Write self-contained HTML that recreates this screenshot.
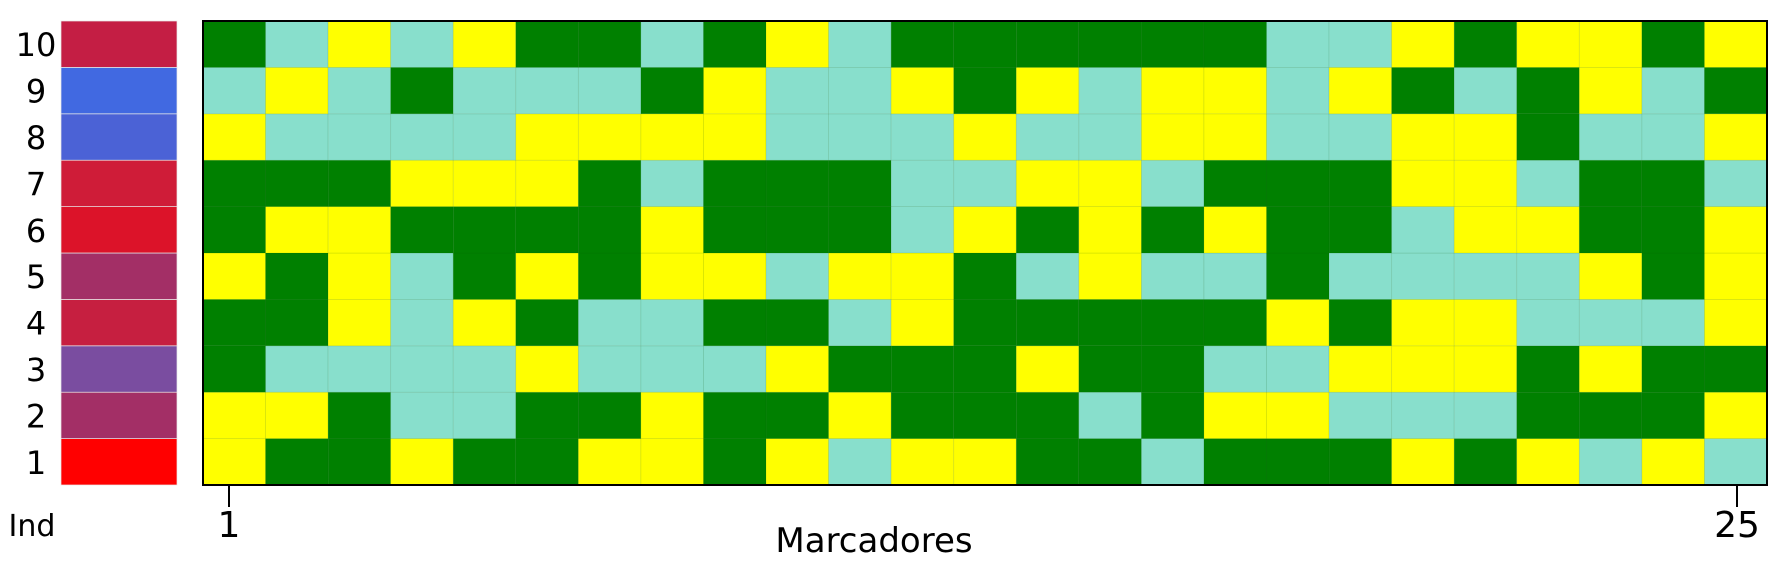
<!DOCTYPE html>
<html><head><meta charset="utf-8"><style>
html,body{margin:0;padding:0;background:#fff;}
svg{display:block;font-family:"DejaVu Sans","Liberation Sans",sans-serif;}
</style></head><body>
<svg id="chart" width="1792" height="568" viewBox="0 0 1792 568" xmlns="http://www.w3.org/2000/svg">
<g id="side"></g><g id="cells"></g><g id="axes"></g>
</svg>
<script>
const individuals=["1","2","3","4","5","6","7","8","9","10"];
const markerTicks=[1,25];
const sideColors=["#ff0000","#a32f66","#7a4da0","#c61f40","#a32f66","#dc1329","#cf1c38","#4b62d6","#4169e1","#c41e44"];
const palette={G:"#008000",T:"#88dfcc",Y:"#ffff00"};
// rows from individual 1 (bottom) to 10 (top)
const genotypes=[
"YGGYGGYYGYTYYGGTGGGYGYTYT",
"YYGTTGGYGGYGGGTGYYTTTGGGY",
"GTTTTYTTTYGGGYGGTTYYYGYGG",
"GGYTYGTTGGTYGGGGGYGYYTTTY",
"YGYTGYGYYTYYGTYTTGTTTTYGY",
"GYYGGGGYGGGTYGYGYGGTYYGGY",
"GGGYYYGTGGGTTYYTGGGYYTGGT",
"YTTTTYYYYTTTYTTYYTTYYGTTY",
"TYTGTTTGYTTYGYTYYTYGTGYTG",
"GTYTYGGTGYTGGGGGGTTYGYYGY"
];
const NS="http://www.w3.org/2000/svg";
const X0=203,X1=1767,Y0=21,Y1=485;
const nCols=genotypes[0].length,nRows=individuals.length;
const cw=(X1-X0)/nCols,rh=(Y1-Y0)/nRows;
const xAt=c=>X0+c*cw;
const yAt=r=>Y1-(r+1)*rh;
const tickX=m=>229+(m-1)*(1737-229)/(nCols-1);
function mk(tag,attrs,parent){const e=document.createElementNS(NS,tag);for(const k in attrs)e.setAttribute(k,attrs[k]);parent.appendChild(e);return e;}
const cells=document.getElementById('cells'),side=document.getElementById('side'),axes=document.getElementById('axes');
for(let r=0;r<nRows;r++){
  for(let c=0;c<nCols;c++){
    const el=mk('rect',{x:xAt(c),y:yAt(r),width:cw,height:rh,fill:palette[genotypes[r][c]],stroke:'rgba(0,80,0,0.12)','stroke-width':0.8},cells);
    
    
  }
  const s=mk('rect',{x:61,y:yAt(r),width:116,height:rh,fill:sideColors[r],stroke:'#e8e8e8','stroke-width':0.7},side);
  
  
  const t=mk('text',{x:36,y:yAt(r)+rh/2+12,'font-size':32,'text-anchor':'middle',fill:'#000'},side);
  t.textContent=individuals[r];
  
  
}
const fr=mk('rect',{x:X0,y:Y0,width:X1-X0,height:Y1-Y0,fill:'none',stroke:'#000','stroke-width':2},axes);


markerTicks.forEach(m=>{
  const x=tickX(m);
  const l=mk('line',{x1:x,x2:x,y1:Y1,y2:Y1+22,stroke:'#000','stroke-width':2},axes);
  
  
  const t=mk('text',{x:x,y:Y1+52,'font-size':36,'text-anchor':'middle'},axes);
  t.textContent=m;
  
  
});
const ind=mk('text',{x:32,y:536,'font-size':30,'text-anchor':'middle'},axes);
ind.textContent='Ind';


const xt=mk('text',{x:874,y:552,'font-size':34,'text-anchor':'middle'},axes);
xt.textContent='Marcadores';


</script>
</body></html>
